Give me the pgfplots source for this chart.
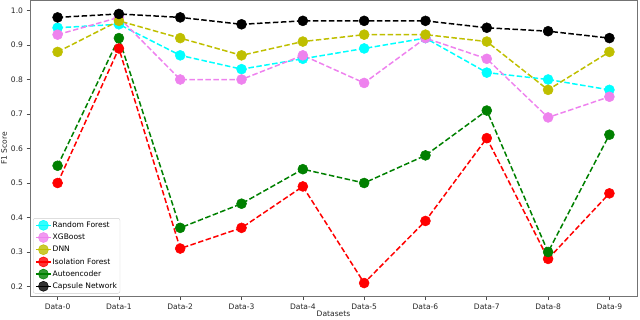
\documentclass[border=0pt]{standalone}
\usepackage{fontspec}
\setmainfont{DejaVu Sans}
\usepackage{pgfplots}
\pgfplotsset{compat=1.18}
\definecolor{mplcyan}{RGB}{0,255,255}
\definecolor{mplviolet}{RGB}{238,130,238}
\definecolor{mplolive}{RGB}{191,191,0}
\definecolor{mplred}{RGB}{255,0,0}
\definecolor{mplgreen}{RGB}{0,128,0}
\pgfplotsset{
  ser/.style={color=#1, mark=*, mark size=5bp, line width=1.5bp,
    dash pattern=on 5.5bp off 2.5bp, mark options={solid, fill=#1, draw=#1, line width=0.5bp}},
}
\begin{document}
\begin{tikzpicture}
\begin{axis}[name=ax, at={(0,0)}, anchor=south west,
  scale only axis, width=607bp, height=296bp,
  xmin=-0.45, xmax=9.45, ymin=0.171, ymax=1.029,
  xtick={0,1,2,3,4,5,6,7,8,9},
  xticklabels={Data-0,Data-1,Data-2,Data-3,Data-4,Data-5,Data-6,Data-7,Data-8,Data-9},
  ytick={0.2,0.3,0.4,0.5,0.6,0.7,0.8,0.9,1.0},
  yticklabel style={/pgf/number format/.cd, fixed, fixed zerofill, precision=1},
  /pgf/number format/assume math mode=true,
  tick label style={font=\fontsize{7.6}{8}\selectfont, color=black!85},
  label style={font=\fontsize{7.6}{8}\selectfont, color=black!85},
  tick align=outside, major tick length=3.5bp,
  tick style={black!70, line width=0.6bp},
  xtick pos=left, ytick pos=left,
  axis line style={black!55, line width=0.8bp},
  xlabel={Datasets}, ylabel={F1 Score},
  xlabel style={yshift=5.5bp},
  ylabel style={yshift=-3bp},
  legend cell align=left,
  legend style={at={(0,0)}, anchor=south west, xshift=3bp, yshift=3bp,
    font=\fontsize{7.6}{8}\selectfont, draw=black!20, rounded corners=2bp,
    fill=white, fill opacity=0.8, text opacity=1, row sep=2.2bp,
    inner xsep=2bp, inner ysep=2bp,
    nodes={inner sep=1bp, text height=5.8bp, text depth=1.6bp}},
  legend image code/.code={\draw[#1, solid, line width=1.5bp] (0bp,0bp) -- (15bp,0bp);
    \draw[#1, solid] plot coordinates {(7.5bp,0bp)};},
]
\addplot[ser=mplcyan] coordinates {(0,0.95)(1,0.96)(2,0.87)(3,0.83)(4,0.86)(5,0.89)(6,0.92)(7,0.82)(8,0.80)(9,0.77)};
\addlegendentry{Random Forest}
\addplot[ser=mplviolet] coordinates {(0,0.93)(1,0.98)(2,0.80)(3,0.80)(4,0.87)(5,0.79)(6,0.92)(7,0.86)(8,0.69)(9,0.75)};
\addlegendentry{XGBoost}
\addplot[ser=mplolive] coordinates {(0,0.88)(1,0.97)(2,0.92)(3,0.87)(4,0.91)(5,0.93)(6,0.93)(7,0.91)(8,0.77)(9,0.88)};
\addlegendentry{DNN}
\addplot[ser=mplred] coordinates {(0,0.50)(1,0.89)(2,0.31)(3,0.37)(4,0.49)(5,0.21)(6,0.39)(7,0.63)(8,0.28)(9,0.47)};
\addlegendentry{Isolation Forest}
\addplot[ser=mplgreen] coordinates {(0,0.55)(1,0.92)(2,0.37)(3,0.44)(4,0.54)(5,0.50)(6,0.58)(7,0.71)(8,0.30)(9,0.64)};
\addlegendentry{Autoencoder}
\addplot[ser=black] coordinates {(0,0.98)(1,0.99)(2,0.98)(3,0.96)(4,0.97)(5,0.97)(6,0.97)(7,0.95)(8,0.94)(9,0.92)};
\addlegendentry{Capsule Network}
\end{axis}
\pgfresetboundingbox
\useasboundingbox ([shift={(-30bp,-22.5bp)}]ax.south west) rectangle ([shift={(3bp,0.5bp)}]ax.north east);
\end{tikzpicture}
\end{document}
